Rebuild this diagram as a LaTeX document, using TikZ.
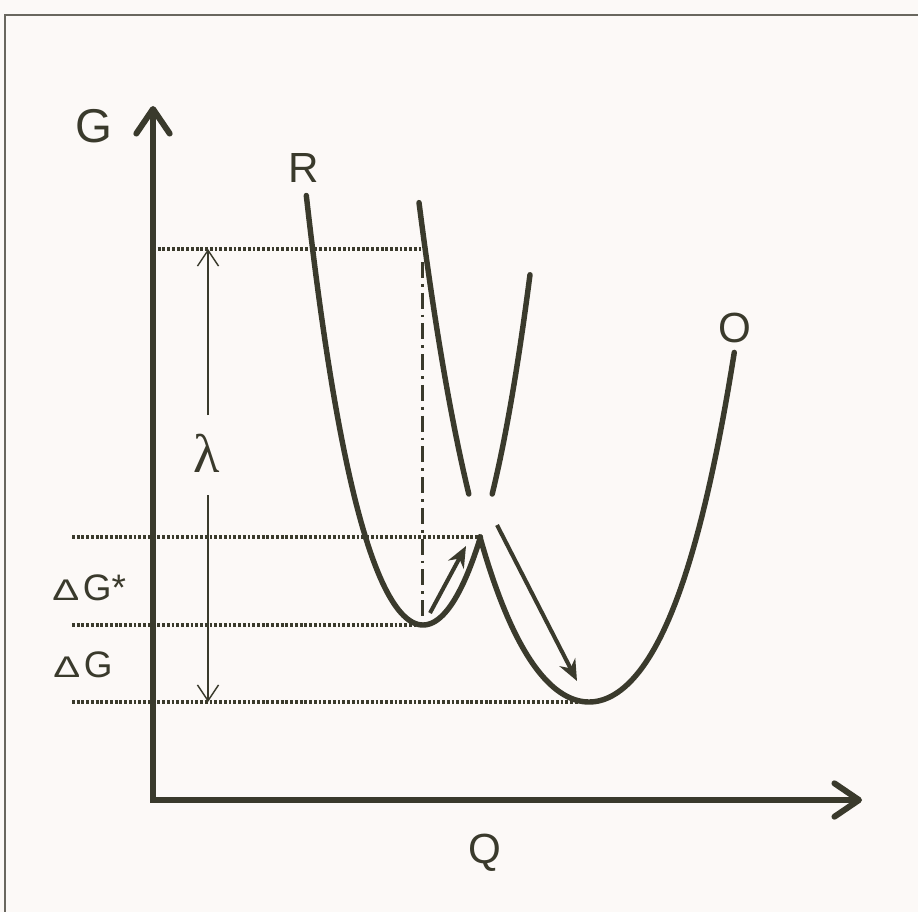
\documentclass[tikz,border=0pt]{standalone}
\usepackage{fontspec}
\setmainfont{Liberation Sans}
\newfontfamily\greekfont{Liberation Serif}
\usepackage{graphicx}
\usetikzlibrary{arrows.meta, positioning}
\definecolor{mydark}{RGB}{58,58,44}
\definecolor{mypaper}{RGB}{252,249,247}
\definecolor{myframe}{RGB}{105,103,95}
\tikzset{
  curve/.style={line width=3.1pt, color=mydark, line cap=round, line join=round},
  axis/.style={line width=3.4pt, color=mydark,
    {Straight Barb[length=14pt, width=19pt, round]}-{Straight Barb[length=14pt, width=19pt, round]}},
  level/.style={line width=1.8pt, color=mydark, dash pattern=on 1.6pt off 1.1pt},
  guide/.style={line width=1.7pt, color=mydark, dash pattern=on 9pt off 3.5pt on 1.5pt off 3.5pt},
  span/.style={line width=0.8pt, color=mydark, -{Straight Barb[length=9pt, width=12pt]}},
  jump/.style={line width=2.3pt, color=mydark, -{Stealth[length=12pt, width=10pt]}},
  lbl/.style={color=mydark, inner sep=0pt, font=\fontsize{24}{24}\selectfont},
  dlbl/.style={lbl, anchor=base west, font=\fontsize{21}{21}\selectfont}
}
\newcommand{\bigdelta}{\scalebox{1.35}[1]{\fontsize{17}{17}\selectfont Δ}\hspace{2pt}}

\begin{document}
\begin{tikzpicture}[x=0.02cm, y=-0.02cm]
  \useasboundingbox (0,0) rectangle (918,912);
  \fill[mypaper] (0,0) rectangle (918,912);
  % frame
  \draw[myframe, line width=1.1pt] (918,15) -- (5,15) -- (5,912);

  % key points
  \coordinate (origin) at (153,800);
  \coordinate (ytip) at (153,106);
  \coordinate (xtip) at (862,800);
  \coordinate (vert) at (422,249);
  \coordinate (cross) at (480.2,537);
  \coordinate (rmin) at (423,625);
  \coordinate (omin) at (589,702);

  % levels
  \draw[level] (origin |- vert) -- (vert);
  \draw[level] (72,537) -- (cross);
  \draw[level] (72,625) -- (rmin);
  \draw[level] (72,702) -- (omin);
  \draw[guide] (422,262) -- (422,621);

  % axes
  \draw[axis] (ytip) -- (origin) -- (xtip);

  % lambda span
  \node[lbl, font=\greekfont\fontsize{31}{31}\selectfont] (lam) at (207,453) {λ};
  \coordinate (lamtop) at (208,249);
  \coordinate (lambot) at (208,702);
  \coordinate (lamup) at (208,415);
  \coordinate (lamdown) at (208,495);
  \draw[span] (lamup) -- (lamtop);
  \draw[span] (lamdown) -- (lambot);

  % R curve
  \draw[curve] plot[domain=-1.167:0, samples=50] ({423+100*\x}, {625-250*\x*\x-48*\x*\x*\x*\x})
    -- plot[domain=0:0.575, samples=30] ({423+100*\x}, {625-250*\x*\x-49*\x*\x*\x*\x});
  \draw[curve] plot[domain=0.692:1.07, samples=20] ({423+100*\x}, {625-250*\x*\x-49*\x*\x*\x*\x});
  % O curve
  \draw[curve] plot[domain=-1.70:-1.202, samples=20] ({589+100*\x}, {702-115*\x*\x-20*\x*\x*\x*\x});
  \draw[curve] plot[domain=-1.091:0, samples=40] ({589+100*\x}, {702-115*\x*\x-20*\x*\x*\x*\x})
    -- plot[domain=0:1.453, samples=50] ({589+100*\x}, {702-115*\x*\x-24*\x*\x*\x*\x});

  % transfer arrows
  \coordinate (upstart) at (430,613);
  \coordinate (upend) at (466,546);
  \coordinate (downstart) at (497,525);
  \coordinate (downend) at (577,681);
  \draw[jump] (upstart) -- (upend);
  \draw[jump] (downstart) -- (downend);

  % labels
  \node[lbl, font=\fontsize{27}{27}\selectfont] (glabel) at (94,126) {G};
  \node[lbl] (rlabel) at (304,168) {R};
  \node[lbl] (olabel) at (735,328) {O};
  \node[lbl] (qlabel) at (485,853) {Q};
  \node[dlbl] (dgstar) at (52,600) {\bigdelta G*};
  \node[dlbl] (dg) at (53,677) {\bigdelta G};
\end{tikzpicture}
\end{document}
